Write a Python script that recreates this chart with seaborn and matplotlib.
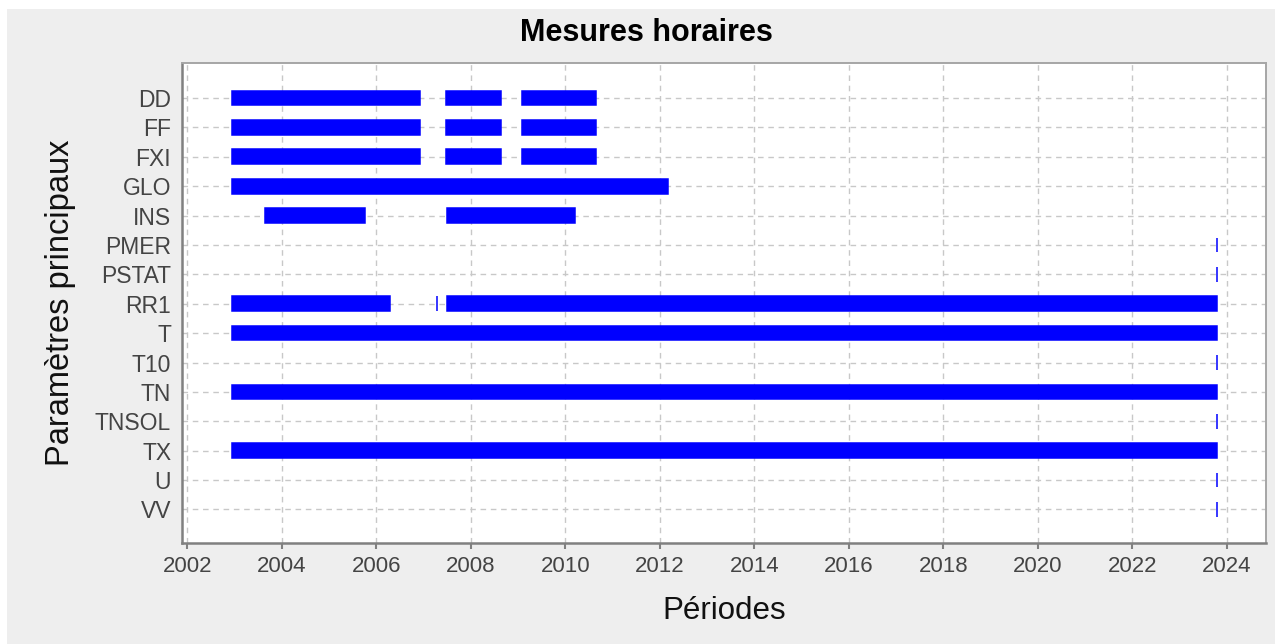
import matplotlib
matplotlib.use("Agg")
import matplotlib.pyplot as plt
import matplotlib.patches as mpatches
import pandas as pd
import seaborn as sns

# paramètres mesurés (ordre d'affichage, du haut vers le bas)
params = ["DD", "FF", "FXI", "GLO", "INS", "PMER", "PSTAT", "RR1",
          "T", "T10", "TN", "TNSOL", "TX", "U", "VV"]

# périodes de disponibilité (années décimales)
seg_param = ["DD", "DD", "DD",
             "FF", "FF", "FF",
             "FXI", "FXI", "FXI",
             "GLO",
             "INS", "INS",
             "PMER",
             "PSTAT",
             "RR1", "RR1", "RR1",
             "T",
             "T10",
             "TN",
             "TNSOL",
             "TX",
             "U",
             "VV"]
seg_start = [2002.95, 2007.47, 2009.08,
             2002.95, 2007.47, 2009.08,
             2002.95, 2007.47, 2009.08,
             2002.95,
             2003.65, 2007.50,
             2023.79,
             2023.79,
             2002.95, 2007.29, 2007.50,
             2002.95,
             2023.79,
             2002.95,
             2023.79,
             2002.95,
             2023.79,
             2023.79]
seg_end = [2006.93, 2008.64, 2010.65,
           2006.93, 2008.64, 2010.65,
           2006.93, 2008.64, 2010.65,
           2012.17,
           2005.76, 2010.21,
           2023.79,
           2023.79,
           2006.29, 2007.29, 2023.79,
           2023.79,
           2023.79,
           2023.79,
           2023.79,
           2023.79,
           2023.79,
           2023.79]

years = list(range(2002, 2025, 2))

df = pd.DataFrame({"param": seg_param, "start": seg_start, "end": seg_end})
df["param"] = pd.Categorical(df["param"], categories=params, ordered=True)
df = df.sort_values("param", kind="stable")
df["duree"] = df["end"] - df["start"]

sns.set_theme(style="white")
plt.rcParams["font.family"] = ["Liberation Sans", "DejaVu Sans"]

fig = plt.figure(figsize=(12.75, 6.44), dpi=100)
fig.patch.set_facecolor("white")
fig.patches.append(mpatches.Rectangle((7 / 1275, 0), 1 - 7 / 1275, 1 - 9 / 644,
                                      transform=fig.transFigure, facecolor="#eeeeee",
                                      edgecolor="none", zorder=-10))
ax = fig.add_axes([0.143, 0.1564, 0.8499, 0.7462])
ax.set_facecolor("white")

ax.barh(df["param"].astype(str), df["duree"], left=df["start"], height=0.5,
        color="#0000ff", edgecolor="#0000ff", linewidth=1.1, zorder=3)

ax.set_xlim(2001.894, 2024.83)
ax.set_ylim(15.15, -1.2)
ax.set_xticks(years)
ax.set_xticklabels([str(y) for y in years])

ax.grid(True, color="#c8c8c8", linestyle=(0, (4, 3.4)), linewidth=1.0, zorder=0)
ax.set_axisbelow(True)

for s in ["left", "bottom"]:
    ax.spines[s].set_color("#808080")
    ax.spines[s].set_linewidth(1.8)
for s in ["top", "right"]:
    ax.spines[s].set_color("#a6a6a6")
    ax.spines[s].set_linewidth(1.4)

ax.tick_params(axis="x", colors="#808080", labelcolor="#444444", labelsize=16,
               length=4.5, width=1.5, pad=5, bottom=True)
ax.tick_params(axis="y", labelcolor="#444444", labelsize=16.5, length=0, pad=8)

ax.set_xlabel("Périodes", fontsize=22.5, color="#111111", labelpad=13)
ax.set_ylabel("Paramètres principaux", fontsize=23.5, color="#111111", labelpad=14)
fig.text(0.507, 1 - 33 / 644, "Mesures horaires", ha="center", va="center",
         fontsize=22, fontweight="bold", color="black")

fig.savefig("out.png", dpi=100, facecolor=fig.get_facecolor())
